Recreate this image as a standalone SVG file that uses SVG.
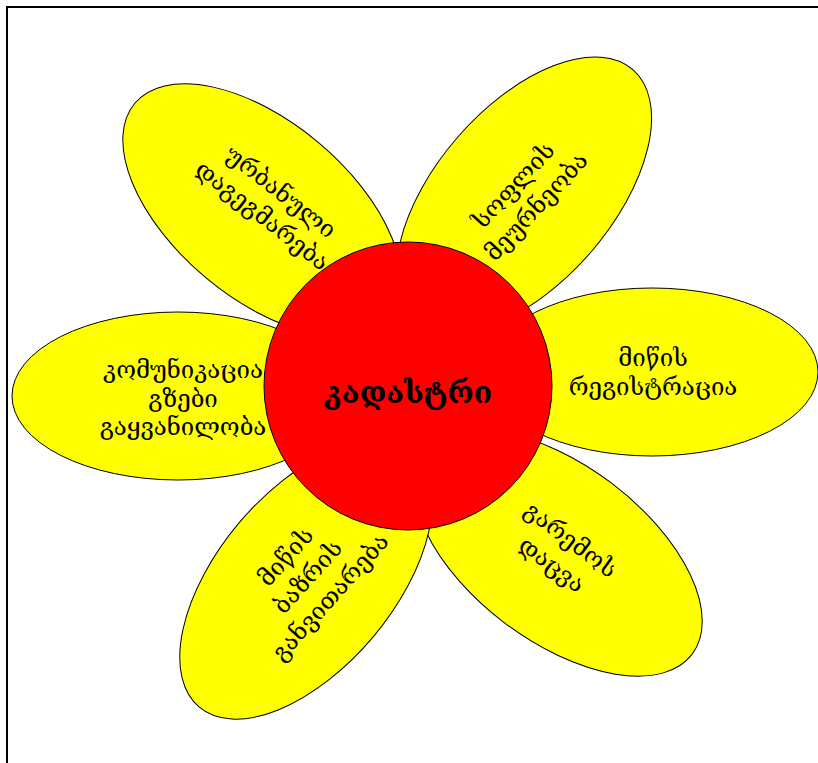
<svg xmlns="http://www.w3.org/2000/svg" width="818" height="763" viewBox="0 0 818 763">
<style>
.petal{fill:#ffff00;stroke:#000;stroke-width:1}
.core{fill:#ff0000;stroke:#000;stroke-width:1}
.t{font-family:"DejaVu Serif","DejaVu Sans",serif;font-size:24px;fill:#000;text-anchor:middle}
.c{font-family:"DejaVu Serif","DejaVu Sans",serif;font-size:30px;font-weight:bold;fill:#000;text-anchor:middle}
</style>
<rect x="7" y="7" width="840" height="800" fill="#fff" stroke="#000" stroke-width="2"/>
<g id="connectors"></g>
<g id="petal-urban">
<ellipse class="petal" cx="0" cy="0" rx="166" ry="88" transform="translate(262,210) rotate(40)"/>
<g transform="translate(272,203) rotate(38)">
<text class="t" x="0" y="-6">ურბანული</text>
<text class="t" x="0" y="24">დაგეგმარება</text>
</g>
</g>
<g id="petal-agri">
<ellipse class="petal" cx="0" cy="0" rx="166" ry="88" transform="translate(524,195) rotate(-49)"/>
<g transform="translate(524,195) rotate(-47)">
<text class="t" x="0" y="-6">სოფლის</text>
<text class="t" x="0" y="25">მეურნეობა</text>
</g>
</g>
<g id="petal-land-reg">
<ellipse class="petal" cx="652" cy="372" rx="166" ry="84"/>
<text class="t" x="653" y="366">მიწის</text>
<text class="t" x="653" y="395">რეგისტრაცია</text>
</g>
<g id="petal-env">
<ellipse class="petal" cx="0" cy="0" rx="168" ry="88" transform="translate(558,553) rotate(37)"/>
<g transform="translate(562,551) rotate(37)">
<text class="t" x="0" y="-6">გარემოს</text>
<text class="t" x="0" y="25">დაცვა</text>
</g>
</g>
<g id="petal-market">
<ellipse class="petal" cx="0" cy="0" rx="166" ry="88" transform="translate(306,580) rotate(-50)"/>
<g transform="translate(308,577) rotate(-48)">
<text class="t" x="0" y="-22">მიწის</text>
<text class="t" x="0" y="8">ბაზრის</text>
<text class="t" x="0" y="38">განვითარება</text>
</g>
</g>
<g id="petal-comm">
<ellipse class="petal" cx="178" cy="396" rx="166" ry="84"/>
<text class="t" x="183" y="378">კომუნიკაცია</text>
<text class="t" x="183" y="407">გზები</text>
<text class="t" x="183" y="435">გაყვანილობა</text>
</g>
<g id="center">
<circle class="core" cx="408" cy="386" r="144"/>
<text class="c" x="408" y="403">კადასტრი</text>
</g>
</svg>
